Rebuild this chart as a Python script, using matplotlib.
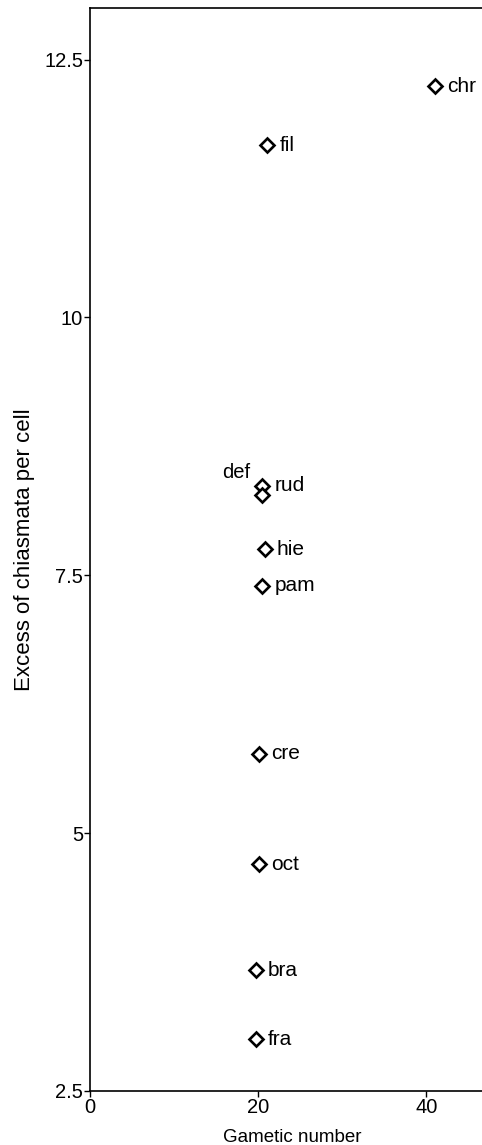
import matplotlib
matplotlib.use('Agg')
import matplotlib.pyplot as plt

plt.rcParams['font.family'] = ['Liberation Sans', 'DejaVu Sans']

# species labels, gametic number and excess chiasmata per cell
species = ['chr', 'fil', 'rud', 'def', 'hie', 'pam', 'cre', 'oct', 'bra', 'fra']
gametic = [41.0, 21.1, 20.5, 20.5, 20.8, 20.5, 20.1, 20.1, 19.7, 19.7]
excess = [12.24, 11.67, 8.37, 8.28, 7.75, 7.40, 5.77, 4.70, 3.67, 3.00]

y_ticks = [2.5, 5, 7.5, 10, 12.5]
y_tick_labels = ['2.5', '5', '7.5', '10', '12.5']
x_ticks = [0, 20, 40]

fig = plt.figure(figsize=(4.82, 11.45), dpi=100)
ax = fig.add_axes([0.1867, 0.0472, 0.8133, 0.9458])

ax.plot(gametic, excess, linestyle='none', marker='D', markersize=7.2,
        markerfacecolor='white', markeredgecolor='black', markeredgewidth=1.9)

for name, gx, ey in zip(species, gametic, excess):
    if name == 'def':
        ax.annotate(name, (gx, ey), xytext=(-9, 16), textcoords='offset points',
                    ha='right', va='center', fontsize=14.5)
    else:
        ax.annotate(name, (gx, ey), xytext=(8.5, 0), textcoords='offset points',
                    ha='left', va='center', fontsize=15)

ax.set_xlim(0, 46.6)
ax.set_ylim(2.5, 13.0)
ax.set_xticks(x_ticks)
ax.set_yticks(y_ticks)
ax.set_yticklabels(y_tick_labels)
ax.tick_params(direction='out', length=4, width=1, labelsize=14.5, pad=1)

ax.spines['right'].set_visible(False)
for s in ['left', 'bottom', 'top']:
    ax.spines[s].set_linewidth(1.2)

ax.set_xlabel('Gametic number', fontsize=13.5, labelpad=0)
ax.xaxis.set_label_coords(0.515, -0.035)
ax.set_ylabel('Excess of chiasmata per cell', fontsize=16)
ax.yaxis.set_label_coords(-0.14, 0.5)

fig.savefig('out.png', dpi=100)
